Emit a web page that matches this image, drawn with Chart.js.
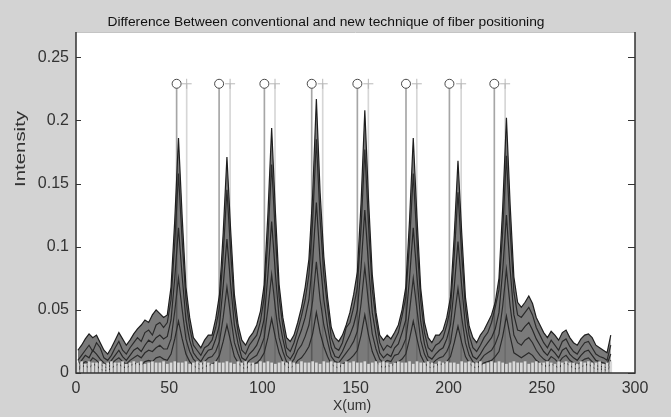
<!DOCTYPE html>
<html>
<head>
<meta charset="utf-8">
<script src="https://cdn.jsdelivr.net/npm/chart.js@4.4.0/dist/chart.umd.min.js"></script>
<style>
  html, body { margin: 0; padding: 0; background: #d3d3d3; }
</style>
</head>
<body>
<canvas id="profileChart" width="671" height="417"></canvas>
<script>
// sample positions along the fiber row, um
const xPos = [1,3,5,7,9,11,13,15,17,19, 21,23,25,27,29,31,33,35,37,39,
  41,43,45,47,49,51,53,55,57,59, 61,63,65,67,69,71,73,75,77,79,
  81,83,85,87,89,91,93,95,97,99, 101,103,105,107,109,111,113,115,117,119,
  121,123,125,127,129,131,133,135,137,139, 141,143,145,147,149,151,153,155,157,159,
  161,163,165,167,169,171,173,175,177,179, 181,183,185,187,189,191,193,195,197,199,
  201,203,205,207,209,211,213,215,217,219, 221,223,225,227,229,231,233,235,237,239,
  241,243,245,247,249,251,253,255,257,259, 261,263,265,267,269,271,273,275,277,279,
  281,283,285,287];

// intensity profiles, in units of 0.001
const trace1 = [18,22,27,31,28,30,24,18,15,20, 26,32,27,22,26,31,35,38,42,40,
  46,50,47,44,46,68,121,186,123,68, 44,28,24,20,26,30,30,43,62,111,
  171,113,62,38,26,22,28,32,38,49, 70,126,194,128,70,44,28,25,30,40,
  52,68,90,141,217,143,92,60,36,28, 25,30,38,48,62,80,135,208,137,78,
  48,30,26,30,27,32,38,50,68,121, 186,123,67,40,28,24,30,30,34,44,
  60,109,168,111,60,37,28,24,30,34, 40,46,56,75,131,202,133,76,56,52,
  56,61,55,44,38,32,28,33,30,26, 32,34,28,24,22,27,30,31,28,22,
  20,18,16,30];
const trace2 = [10,14,18,22,17,24,20,12,10,14, 20,25,18,15,20,24,28,25,32,34,
  30,38,40,36,40,58,103,158,104,58, 36,22,18,14,20,22,26,36,52,94,
  145,96,52,32,18,15,22,26,30,41, 60,107,165,109,60,37,20,17,24,34,
  45,58,78,120,185,122,78,52,28,20, 18,24,36,40,52,68,115,177,117,66,
  42,24,18,22,20,26,32,45,60,103, 158,104,57,32,20,17,22,24,28,38,
  52,93,143,94,51,30,20,17,22,28, 32,40,52,66,112,172,113,64,46,44,
  48,52,46,36,30,24,20,26,22,18, 25,27,21,17,15,20,24,25,20,15,
  13,12,10,22];
const trace3 = [6,10,14,12,18,15,11,8,6,10, 14,18,13,10,14,18,20,17,22,26,
  24,28,30,27,29,42,75,115,76,42, 26,16,12,9,14,18,19,27,38,69,
  106,70,38,23,12,10,15,18,22,30, 43,78,120,79,43,27,14,11,16,26,
  34,44,58,88,135,89,58,37,20,13, 12,17,24,30,38,50,84,129,85,48,
  30,16,12,15,13,20,23,32,42,75, 115,76,41,23,13,11,15,18,20,27,
  38,68,104,69,37,21,13,11,15,20, 24,28,35,48,81,125,82,46,34,33,
  37,40,34,27,22,17,14,19,16,12, 18,20,15,12,10,14,17,18,14,10,
  9,8,7,15];
const trace4 = [3,7,9,8,12,10,7,5,4,7, 10,12,9,7,10,12,14,12,16,18,
  17,20,22,19,19,27,49,75,50,27, 17,11,8,6,9,12,13,17,25,44,
  68,45,24,15,8,6,10,12,14,20, 28,51,78,51,28,17,9,7,11,18,
  22,29,38,57,88,58,38,25,13,9, 8,12,16,20,25,33,55,84,55,31,
  19,11,8,10,9,14,15,20,27,49, 75,50,26,15,9,7,10,12,13,17,
  24,44,67,44,24,14,9,7,10,14, 16,18,23,31,53,82,53,30,24,22,
  26,28,24,18,14,11,9,13,11,8, 12,14,10,8,6,9,11,12,9,6,
  5,5,4,10];
const trace5 = [2,5,6,4,7,6,3,2,2,4, 6,7,5,4,6,7,8,6,9,10,
  9,12,13,11,10,15,27,41,27,15, 9,6,4,3,5,6,7,9,14,25,
  38,25,13,8,5,3,6,7,8,11, 16,28,43,28,16,9,5,4,6,10,
  12,16,21,31,48,32,21,13,7,5, 4,7,9,11,14,18,30,46,30,17,
  10,6,4,6,5,8,9,11,15,27, 41,27,14,8,5,4,6,7,7,9,
  13,24,37,24,13,8,5,4,6,8, 9,10,13,17,29,45,29,16,14,12,
  14,16,14,10,8,6,5,7,6,4, 7,8,6,4,3,5,6,7,5,3,
  3,3,2,6];
// hatched floor along the bottom, units of 0.001
const floorLevel = [8,9,7,9,8,8,9,7,8,9, 8,8,9,7,8,9,8,9,7,8,
  9,8,8,9,7,8,9,8,8,9, 7,8,9,8,9,8,7,9,8,8,
  9,8,7,9,8,9,8,8,7,9, 8,9,8,7,8,9,8,9,8,7,
  9,8,8,9,8,7,9,8,9,8, 8,7,9,8,9,8,8,9,7,8,
  9,8,9,8,7,8,9,8,8,9, 7,9,8,8,9,8,7,9,8,9,
  8,8,7,9,8,9,8,8,9,7, 8,9,8,9,8,7,8,9,8,8,
  9,7,8,9,8,8,9,8,7,9, 8,9,8,8,7,9,8,9,8,8,
  9,7,8,9];

// fiber position markers: old technique (o) and new technique (+)
const circleX = [54.0, 76.8, 101.1, 126.5, 151.0, 177.1, 200.4, 224.5];
const plusX = [59.4, 82.7, 106.8, 132.4, 156.9, 182.9, 206.7, 230.3];
const markerY = [0.229, 0.229, 0.229, 0.229, 0.229, 0.229, 0.229, 0.229];

const yTicks = [0, 0.05, 0.1, 0.15, 0.2, 0.25];
const titleText = 'Difference Between conventional and new technique of fiber positioning';
const font = '"Liberation Sans", Arial, sans-serif';

function toPoints(values) {
    return values.map((v, i) => ({ x: xPos[i], y: v / 1000 }));
}
function markerPoints(xs) {
    return xs.map((x, i) => ({ x: x, y: markerY[i] }));
}

const traces = [trace1, trace2, trace3, trace4, trace5];
const traceColors = ['#1e1e1e', '#303030', '#282828', '#333333', '#2c2c2c'];

const datasets = [
    { type: 'line', data: markerPoints(circleX), showLine: false, pointStyle: 'circle',
      pointRadius: 4.5, pointBorderColor: '#4a4a4a', pointBackgroundColor: '#ffffff', pointBorderWidth: 1, order: 0 },
    { type: 'line', data: markerPoints(plusX), showLine: false, pointStyle: 'cross',
      pointRadius: 5, pointBorderColor: '#b8b8b8', pointBorderWidth: 1, order: 0 }
];
traces.forEach((t, k) => {
    datasets.push({
        type: 'line', data: toPoints(t), borderColor: traceColors[k], borderWidth: 1.2,
        pointRadius: 0, tension: 0,
        fill: k === 0 ? 'origin' : false,
        backgroundColor: 'rgba(40,40,40,0.62)',
        order: 2 + k
    });
});
// drop lines under the markers
datasets.push({ type: 'bar', data: markerPoints(circleX), backgroundColor: '#a6a6a6', barThickness: 1, grouped: false, order: 9 });
datasets.push({ type: 'bar', data: markerPoints(plusX), backgroundColor: '#d6d6d6', barThickness: 1, grouped: false, order: 9 });
datasets.push({ type: 'bar', data: toPoints(floorLevel), backgroundColor: '#d9d9d9', barThickness: 2, grouped: false, order: 1 });

// draw text stretched to the width it has in the picture
function stretchedText(ctx, text, width) {
    const w = ctx.measureText(text).width;
    ctx.scale(width / w, 1);
    ctx.fillText(text, 0, 0);
}

const framePlugin = {
    id: 'frame',
    beforeDraw(chart) {
        const { ctx, chartArea: a } = chart;
        ctx.save();
        ctx.fillStyle = '#d3d3d3';
        ctx.fillRect(0, 0, chart.width, chart.height);
        ctx.fillStyle = '#ffffff';
        ctx.fillRect(a.left, a.top, a.right - a.left, a.bottom - a.top);
        ctx.restore();
    },
    afterDraw(chart) {
        const { ctx, chartArea: a, scales: { y } } = chart;
        ctx.save();
        ctx.strokeStyle = '#c4c4c4';
        ctx.lineWidth = 1;
        ctx.beginPath();
        ctx.moveTo(a.left, a.top + 0.5);
        ctx.lineTo(a.right, a.top + 0.5);
        ctx.stroke();

        ctx.strokeStyle = '#333333';
        ctx.lineWidth = 1.5;
        ctx.beginPath();
        ctx.moveTo(a.left, a.top);
        ctx.lineTo(a.left, a.bottom);
        ctx.lineTo(a.right, a.bottom);
        ctx.lineTo(a.right, a.top);
        ctx.stroke();

        ctx.lineWidth = 1;
        yTicks.forEach(v => {
            const py = Math.round(y.getPixelForValue(v)) + 0.5;
            ctx.beginPath();
            ctx.moveTo(a.left, py);
            ctx.lineTo(a.left + 5, py);
            ctx.moveTo(a.right - 7, py);
            ctx.lineTo(a.right, py);
            ctx.stroke();
        });
        ctx.restore();

        ctx.save();
        ctx.fillStyle = '#111111';
        ctx.textAlign = 'center';
        ctx.textBaseline = 'middle';
        ctx.font = '12.5px ' + font;
        ctx.translate(326, 23);
        stretchedText(ctx, titleText, 437);
        ctx.restore();

        ctx.save();
        ctx.fillStyle = '#333333';
        ctx.textAlign = 'center';
        ctx.textBaseline = 'middle';
        ctx.font = '14px ' + font;
        ctx.fillText('X(um)', 352, 406);
        ctx.translate(21, 149);
        ctx.rotate(-Math.PI / 2);
        stretchedText(ctx, 'Intensity', 76);
        ctx.restore();
    }
};

new Chart(document.getElementById('profileChart').getContext('2d'), {
    type: 'line',
    data: { datasets: datasets },
    options: {
        responsive: false,
        animation: false,
        layout: { padding: { top: 32, right: 36, left: 0, bottom: 0 } },
        plugins: {
            legend: { display: false },
            tooltip: { enabled: false },
            title: { display: false }
        },
        scales: {
            x: {
                type: 'linear', min: 0, max: 300, offset: false,
                grid: { display: false, drawTicks: false, offset: false },
                border: { display: false },
                ticks: { stepSize: 50, padding: 6, maxRotation: 0, color: '#333', font: { size: 16, family: font } },
                afterFit(s) { s.height = 44; }
            },
            y: {
                type: 'linear', min: 0, max: 0.27,
                grid: { display: false, drawTicks: false },
                border: { display: false },
                ticks: {
                    stepSize: 0.05, includeBounds: false, padding: 7, color: '#333',
                    font: { size: 16, family: font },
                    callback: v => String(+v.toFixed(2))
                },
                afterFit(s) { s.width = 76; }
            }
        }
    },
    plugins: [framePlugin]
});
</script>
</body>
</html>
